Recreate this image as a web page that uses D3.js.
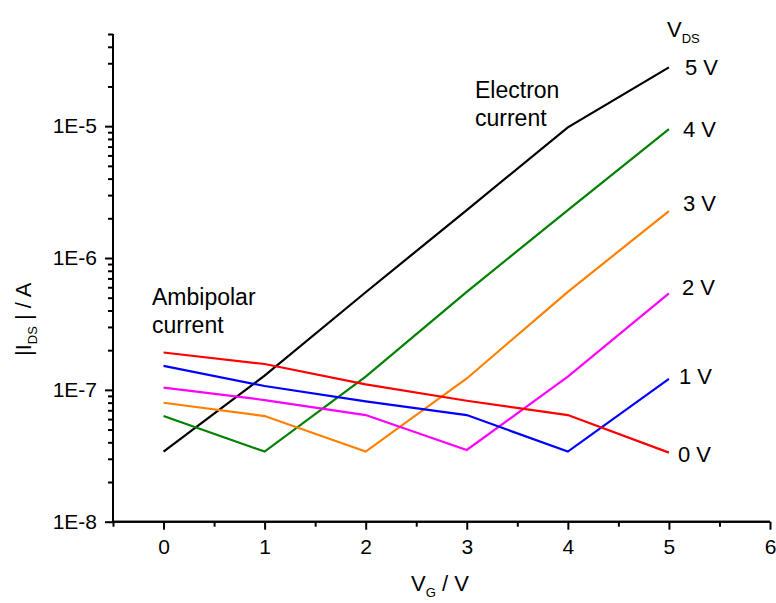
<!DOCTYPE html>
<html><head><meta charset="utf-8">
<script src="https://cdn.jsdelivr.net/npm/d3@7"></script>
<style>body{margin:0;background:#fff}svg{display:block}text{font-family:"Liberation Sans",Arial,sans-serif;fill:#000}</style>
</head><body><svg id="c" width="776" height="603"></svg>
<script>
const vg = [0, 1, 2, 3, 4, 5];
const seriesNames = ["5 V", "4 V", "3 V", "2 V", "1 V", "0 V"];
const seriesColors = ["#000000", "#008000", "#ff8000", "#ff00ff", "#0000ff", "#ff0000"];
const i5 = [3.4e-8, 1.28e-7, 5.5e-7, 2.31e-6, 9.8e-6, 2.79e-5];
const i4 = [6.33e-8, 3.4e-8, 1.26e-7, 5.54e-7, 2.31e-6, 9.5e-6];
const i3 = [7.98e-8, 6.33e-8, 3.4e-8, 1.22e-7, 5.54e-7, 2.27e-6];
const i2 = [1.04e-7, 8.37e-8, 6.44e-8, 3.5e-8, 1.26e-7, 5.39e-7];
const i1 = [1.52e-7, 1.07e-7, 8.18e-8, 6.44e-8, 3.4e-8, 1.21e-7];
const i0 = [1.92e-7, 1.57e-7, 1.1e-7, 8.27e-8, 6.44e-8, 3.34e-8];
const seriesValues = [i5, i4, i3, i2, i1, i0];
const xTicks = [0, 1, 2, 3, 4, 5, 6];
const xMinor = [-0.5, 0.5, 1.5, 2.5, 3.5, 4.5, 5.5];
const yTicks = [1e-8, 1e-7, 1e-6, 1e-5];
const yTickLabels = ["1E-8", "1E-7", "1E-6", "1E-5"];

const svg = d3.select("#c");
const L = 113, R = 770, T = 34, B = 521.7;
const x = d3.scaleLinear().domain([-0.5, 6]).range([L, R]);
const y = d3.scaleLog().domain([1e-8, 5e-5]).range([B, T]);

const yMinor = [];
for (let e = -8; e <= -5; e++) for (let m = 2; m <= 9; m++) { const v = m * Math.pow(10, e); if (v <= 5e-5) yMinor.push(v); }

const fs = 21;
const gyMin = svg.append("g").attr("transform", `translate(${L},0)`)
  .call(d3.axisLeft(y).tickValues(yMinor).tickSize(5).tickFormat(""));
const gy = svg.append("g").attr("transform", `translate(${L},0)`)
  .call(d3.axisLeft(y).tickValues(yTicks).tickSize(8).tickPadding(8).tickFormat((d, i) => yTickLabels[i]));
const gxMin = svg.append("g").attr("transform", `translate(0,${B})`)
  .call(d3.axisBottom(x).tickValues(xMinor).tickSize(5).tickFormat(""));
const gx = svg.append("g").attr("transform", `translate(0,${B})`)
  .call(d3.axisBottom(x).tickValues(xTicks).tickSize(8).tickPadding(9).tickFormat(d3.format("d")));
[gyMin, gy, gxMin, gx].forEach(g => {
  g.selectAll(".domain").attr("stroke", "#000").attr("stroke-width", 2);
  g.selectAll(".tick line").attr("stroke", "#000").attr("stroke-width", 2);
  g.selectAll("text").style("font-size", fs + "px").attr("font-family", "Liberation Sans, Arial, sans-serif").attr("fill", "#000");
});
gyMin.select(".domain").attr("d", `M0,${B}V${T}`);
gy.select(".domain").attr("d", `M0,${B}V${T}`);
gx.select(".domain").attr("d", `M${L},0H${R}`);
gxMin.select(".domain").attr("d", `M${L},0H${R}`);

const line = d3.line().x((d, i) => x(vg[i])).y(d => y(d));
seriesValues.forEach((vals, k) => {
  svg.append("path").datum(vals).attr("d", line).attr("fill", "none")
    .attr("stroke", seriesColors[k]).attr("stroke-width", 2.2).attr("stroke-linejoin", "miter");
});

const labelOff = [[16, 0], [14, 0], [14, -8], [13, -6], [10, -3], [9, 1]];
seriesValues.forEach((vals, k) => {
  svg.append("text").attr("x", x(5) + labelOff[k][0]).attr("y", y(vals[5]) + labelOff[k][1] + 8)
    .style("font-size", "22px").text(seriesNames[k]);
});

const hdr = svg.append("text").attr("x", 667).attr("y", 37).style("font-size", "22px");
hdr.append("tspan").text("V");
hdr.append("tspan").attr("dy", 6).style("font-size", "13px").text("DS");

const ann1 = svg.append("text").attr("x", 475).attr("y", 98).style("font-size", "23px");
ann1.append("tspan").attr("x", 475).text("Electron");
ann1.append("tspan").attr("x", 475).attr("dy", 28).text("current");
const ann2 = svg.append("text").attr("x", 152).attr("y", 305).style("font-size", "23px");
ann2.append("tspan").attr("x", 152).text("Ambipolar");
ann2.append("tspan").attr("x", 152).attr("dy", 28).text("current");

const xt = svg.append("text").attr("x", 411).attr("y", 591).style("font-size", "22px");
xt.append("tspan").text("V");
xt.append("tspan").attr("dy", 6).style("font-size", "13px").text("G");
xt.append("tspan").attr("dy", -6).text(" / V");

const yt = svg.append("text").attr("transform", "translate(31,356) rotate(-90)").style("font-size", "22px");
yt.append("tspan").text("|I");
yt.append("tspan").attr("dy", 6).style("font-size", "13px").text("DS");
yt.append("tspan").attr("dy", -6).text(" | / A");
</script></body></html>
